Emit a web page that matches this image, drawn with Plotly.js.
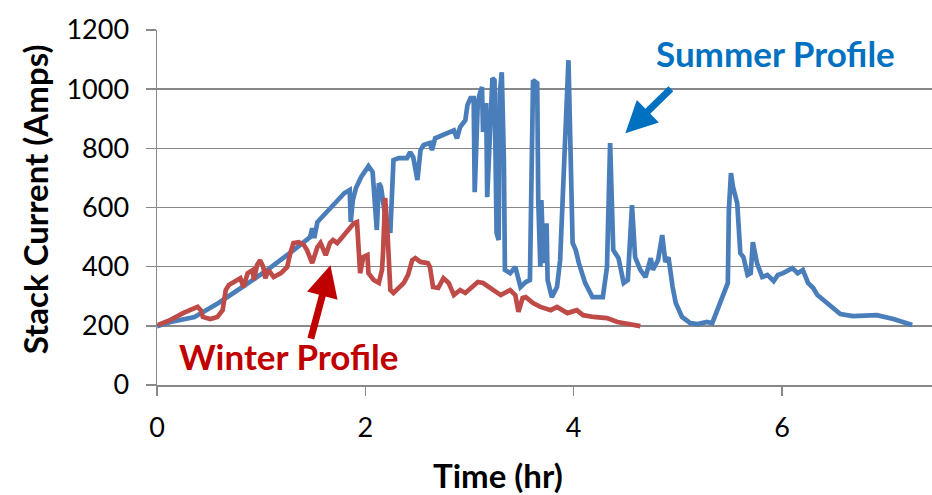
<!DOCTYPE html>
<html>
<head>
<meta charset="utf-8">
<script src="https://cdn.plot.ly/plotly-3.0.1.min.js"></script>
<style>html,body{margin:0;padding:0;background:#fff;}#chart{width:932px;height:495px;}</style>
</head>
<body>
<div id="chart"></div>
<script>
// Summer profile: time (hr) and stack current (Amps)
var summerTime = [0.00,0.13,0.36,0.59,0.82,1.06,1.29,1.47,1.49,1.51,1.54,1.66,1.80,1.85,1.86,1.88,1.91,1.96,2.03,2.07,2.11,2.13,2.15,2.19,2.24,2.27,2.32,2.40,2.43,2.46,2.50,2.53,2.56,2.62,2.64,2.67,2.75,2.85,2.88,2.91,2.96,2.98,3.01,3.04,3.05,3.08,3.10,3.12,3.13,3.16,3.17,3.20,3.22,3.24,3.26,3.28,3.29,3.31,3.33,3.34,3.39,3.44,3.49,3.54,3.58,3.61,3.65,3.66,3.68,3.69,3.71,3.74,3.75,3.79,3.84,3.87,3.89,3.92,3.95,3.99,4.02,4.05,4.11,4.18,4.28,4.32,4.35,4.38,4.43,4.48,4.52,4.56,4.59,4.64,4.69,4.74,4.76,4.81,4.85,4.88,4.91,4.95,4.98,5.04,5.12,5.19,5.28,5.33,5.39,5.44,5.48,5.49,5.51,5.53,5.57,5.60,5.63,5.67,5.70,5.72,5.76,5.81,5.86,5.92,5.96,6.01,6.10,6.15,6.20,6.25,6.30,6.34,6.43,6.56,6.68,6.82,6.91,7.07,7.25];
var summerCurrent = [199,213,230,277,331,389,450,500,530,497,551,598,649,659,551,625,666,703,740,720,524,682,669,574,514,760,767,767,787,770,693,794,811,818,794,834,845,861,834,872,895,946,970,970,652,956,986,1007,855,953,635,922,1037,1030,514,490,986,1057,760,389,378,399,331,348,355,1030,1020,625,399,625,412,547,355,297,331,422,601,872,1098,480,456,412,345,297,297,399,818,456,429,345,355,608,432,389,365,429,389,422,507,416,432,331,277,230,209,206,213,209,264,311,345,591,716,669,615,446,432,372,378,483,412,365,372,351,372,378,395,378,389,345,328,304,277,240,233,236,236,223,203];

// Winter profile
var winterTime = [0.01,0.13,0.25,0.39,0.42,0.44,0.51,0.58,0.63,0.66,0.69,0.77,0.80,0.83,0.87,0.92,0.93,0.96,0.99,1.02,1.04,1.07,1.12,1.19,1.25,1.28,1.31,1.36,1.41,1.44,1.49,1.54,1.57,1.62,1.66,1.69,1.73,1.78,1.83,1.89,1.92,1.93,1.95,1.98,2.02,2.03,2.08,2.13,2.16,2.17,2.19,2.21,2.22,2.24,2.27,2.32,2.37,2.41,2.45,2.48,2.53,2.60,2.62,2.65,2.70,2.75,2.80,2.85,2.91,2.96,3.08,3.13,3.22,3.30,3.39,3.44,3.47,3.51,3.54,3.61,3.68,3.78,3.84,3.94,4.03,4.09,4.19,4.32,4.42,4.57,4.64];
var winterCurrent = [203,220,243,264,253,230,223,230,253,321,338,355,361,331,378,389,355,405,422,399,361,389,365,378,399,446,480,483,473,456,412,466,480,439,480,490,480,500,520,547,551,480,378,432,439,378,355,345,389,446,632,534,422,321,311,328,345,372,422,429,416,412,399,331,328,361,345,304,321,311,348,345,321,304,321,304,247,294,297,277,264,253,264,243,253,236,230,226,213,206,199];

var yTicks = [0,200,400,600,800,1000,1200];
var xTicks = [0,2,4,6];

var gridCol = '#888888';
var font = 'Lato, "Open Sans", sans-serif';

var data = [
  {x: summerTime, y: summerCurrent, type: 'scatter', mode: 'lines', name: 'Summer Profile',
   line: {color: '#4A7EBB', width: 4.7}},
  {x: winterTime, y: winterCurrent, type: 'scatter', mode: 'lines', name: 'Winter Profile',
   line: {color: '#BE4B48', width: 4.7}}
];

var layout = {
  width: 932, height: 495,
  margin: {l: 157, r: 0, t: 30, b: 110, pad: 0},
  paper_bgcolor: '#ffffff', plot_bgcolor: '#ffffff',
  showlegend: false,
  font: {family: font, color: '#000'},
  xaxis: {
    range: [0, 7.44], tickvals: xTicks, ticktext: xTicks.map(String),
    showgrid: false, zeroline: false,
    showline: true, linecolor: gridCol, linewidth: 1.5,
    ticks: 'outside', ticklen: 9, tickcolor: gridCol, tickwidth: 1.5,
    tickfont: {family: font, size: 27, color: '#000'},
    ticklabelstandoff: 9
  },
  yaxis: {
    range: [0, 1200], tickvals: yTicks, ticktext: yTicks.map(String),
    showgrid: true, gridcolor: gridCol, gridwidth: 1.5,
    zeroline: false,
    showline: true, linecolor: gridCol, linewidth: 1.5,
    ticks: 'outside', ticklen: 10, tickcolor: gridCol, tickwidth: 1.5,
    tickfont: {family: font, size: 27, color: '#000'},
    ticklabelstandoff: 11
  },
  annotations: [
    {x: 0.44, y: -0.2535, xref: 'paper', yref: 'paper', xanchor: 'center', yanchor: 'middle',
     text: '<b>Time (hr)</b>', showarrow: false,
     font: {family: font, size: 33, color: '#000'}},
    {x: -0.157, y: 0.524, xref: 'paper', yref: 'paper', xanchor: 'center', yanchor: 'middle',
     text: '<b>Stack Current (Amps)</b>', showarrow: false,
     textangle: -90, font: {family: font, size: 33, color: '#000'}},
    {x: 5.935, y: 1121, xref: 'x', yref: 'y', xanchor: 'center', yanchor: 'middle',
     text: '<b>Summer Profile</b>', showarrow: false,
     font: {family: font, size: 35, color: '#0070C0'}},
    {x: 1.265, y: 98, xref: 'x', yref: 'y', xanchor: 'center', yanchor: 'middle',
     text: '<b>Winter Profile</b>', showarrow: false,
     font: {family: font, size: 35, color: '#C00000'}},
    {x: 4.496, y: 851, xref: 'x', yref: 'y', text: '', showarrow: true,
     ax: 47, ay: -46, arrowcolor: '#0070C0', arrowwidth: 7, arrowhead: 2, arrowsize: 0.9, standoff: 0},
    {x: 1.665, y: 405, xref: 'x', yref: 'y', text: '', showarrow: true,
     ax: -20, ay: 75, arrowcolor: '#C00000', arrowwidth: 7, arrowhead: 2, arrowsize: 0.9, standoff: 0}
  ]
};

Plotly.newPlot('chart', data, layout, {staticPlot: true, displayModeBar: false});
</script>
</body>
</html>
